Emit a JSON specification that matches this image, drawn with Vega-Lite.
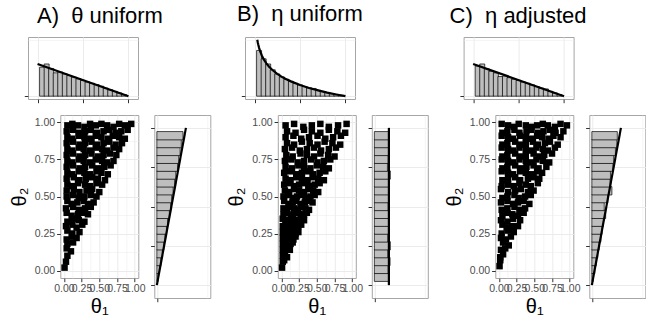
{
"$schema": "https://vega.github.io/schema/vega-lite/v6.json",
"background": "white",
"padding": {"left": 8, "right": 0, "top": 2, "bottom": 0},
"config": {
 "view": {"stroke": "#A6A6A6", "strokeWidth": 1},
 "axis": {"domain": false, "tickColor": "#333333", "tickSize": 3.7, "tickWidth": 1, "gridColor": "#EBEBEB", "labelFont": "Liberation Sans", "labelFontSize": 10.5, "labelColor": "#4D4D4D", "labelPadding": 2, "titleFont": "Liberation Sans", "titleFontWeight": "normal", "titleColor": "#000000", "minExtent": 0, "maxExtent": 300, "labelOverlap": false, "labelFlush": false},
 "title": {"font": "Liberation Sans", "fontSize": 22, "fontWeight": "normal", "anchor": "start", "frame": "group", "color": "#000000", "baseline": "alphabetic", "offset": 9.5, "dx": -8}
},
"datasets": {
 "topA": [{"c":0.05,"d":1.8},{"c":0.10,"d":2.0},{"c":0.15,"d":1.72},{"c":0.20,"d":1.45},{"c":0.25,"d":1.5},{"c":0.30,"d":1.38},{"c":0.35,"d":1.28},{"c":0.40,"d":1.18},{"c":0.45,"d":1.08},{"c":0.50,"d":0.98},{"c":0.55,"d":0.88},{"c":0.60,"d":0.8},{"c":0.65,"d":0.72},{"c":0.70,"d":0.62},{"c":0.75,"d":0.5},{"c":0.80,"d":0.4},{"c":0.85,"d":0.3},{"c":0.90,"d":0.2},{"c":0.95,"d":0.1}],
 "topB": [{"c":0.05,"d":2.84},{"c":0.10,"d":2.32},{"c":0.15,"d":2.0},{"c":0.20,"d":1.64},{"c":0.25,"d":1.38},{"c":0.30,"d":1.2},{"c":0.35,"d":1.05},{"c":0.40,"d":0.92},{"c":0.45,"d":0.8},{"c":0.50,"d":0.7},{"c":0.55,"d":0.6},{"c":0.60,"d":0.52},{"c":0.65,"d":0.48},{"c":0.70,"d":0.36},{"c":0.75,"d":0.29},{"c":0.80,"d":0.22},{"c":0.85,"d":0.16},{"c":0.90,"d":0.1},{"c":0.95,"d":0.05}],
 "topC": [{"c":0.05,"d":1.88},{"c":0.10,"d":2.0},{"c":0.15,"d":1.7},{"c":0.20,"d":1.55},{"c":0.25,"d":1.45},{"c":0.30,"d":1.22},{"c":0.35,"d":1.25},{"c":0.40,"d":1.15},{"c":0.45,"d":1.05},{"c":0.50,"d":0.98},{"c":0.55,"d":0.88},{"c":0.60,"d":0.8},{"c":0.65,"d":0.7},{"c":0.70,"d":0.6},{"c":0.75,"d":0.5},{"c":0.80,"d":0.45},{"c":0.85,"d":0.3},{"c":0.90,"d":0.2},{"c":0.95,"d":0.1}],
 "rhA": [{"c":0.05,"d":0.09},{"c":0.10,"d":0.18},{"c":0.15,"d":0.28},{"c":0.20,"d":0.38},{"c":0.25,"d":0.48},{"c":0.30,"d":0.56},{"c":0.35,"d":0.66},{"c":0.40,"d":0.74},{"c":0.45,"d":0.86},{"c":0.50,"d":0.95},{"c":0.55,"d":1.02},{"c":0.60,"d":1.12},{"c":0.65,"d":1.22},{"c":0.70,"d":1.3},{"c":0.75,"d":1.42},{"c":0.80,"d":1.5},{"c":0.85,"d":1.6},{"c":0.90,"d":1.68},{"c":0.95,"d":1.8}],
 "rhB": [{"c":0.05,"d":1.0},{"c":0.10,"d":0.95},{"c":0.15,"d":1.08},{"c":0.20,"d":0.92},{"c":0.25,"d":1.1},{"c":0.30,"d":0.92},{"c":0.35,"d":0.97},{"c":0.40,"d":1.0},{"c":0.45,"d":1.02},{"c":0.50,"d":0.95},{"c":0.55,"d":1.0},{"c":0.60,"d":1.0},{"c":0.65,"d":1.0},{"c":0.70,"d":1.1},{"c":0.75,"d":0.9},{"c":0.80,"d":0.95},{"c":0.85,"d":1.0},{"c":0.90,"d":1.0},{"c":0.95,"d":1.0}],
 "rhC": [{"c":0.05,"d":0.1},{"c":0.10,"d":0.2},{"c":0.15,"d":0.3},{"c":0.20,"d":0.4},{"c":0.25,"d":0.5},{"c":0.30,"d":0.62},{"c":0.35,"d":0.7},{"c":0.40,"d":0.8},{"c":0.45,"d":0.95},{"c":0.50,"d":0.85},{"c":0.55,"d":1.1},{"c":0.60,"d":1.38},{"c":0.65,"d":1.25},{"c":0.70,"d":1.28},{"c":0.75,"d":1.45},{"c":0.80,"d":1.5},{"c":0.85,"d":1.62},{"c":0.90,"d":1.72},{"c":0.95,"d":1.75}],
 "lineTri": [{"c":0,"d":2},{"c":1,"d":0}],
 "lineLog": [{"c":0.0302,"d":3.5},{"c":0.035,"d":3.35},{"c":0.04,"d":3.22},{"c":0.05,"d":3.0},{"c":0.06,"d":2.81},{"c":0.08,"d":2.53},{"c":0.1,"d":2.3},{"c":0.13,"d":2.04},{"c":0.16,"d":1.83},{"c":0.2,"d":1.61},{"c":0.25,"d":1.39},{"c":0.3,"d":1.2},{"c":0.35,"d":1.05},{"c":0.4,"d":0.92},{"c":0.5,"d":0.69},{"c":0.6,"d":0.51},{"c":0.7,"d":0.36},{"c":0.8,"d":0.22},{"c":0.9,"d":0.105},{"c":1.0,"d":0}],
 "rlineTri": [{"c":0,"d":0},{"c":1,"d":2}],
 "rlineFlat": [{"c":0,"d":1},{"c":1,"d":1}],
 "ptsA": [{"x":0.01,"y":0.02},{"x":0.03,"y":0.06},{"x":0.05,"y":0.10},{"x":0.04,"y":0.15},{"x":0.10,"y":0.13},{"x":0.05,"y":0.18},{"x":0.13,"y":0.19},{"x":0.04,"y":0.21},{"x":0.11,"y":0.23},{"x":0.18,"y":0.22},{"x":0.05,"y":0.27},{"x":0.12,"y":0.25},{"x":0.22,"y":0.26},{"x":0.03,"y":0.30},{"x":0.12,"y":0.31},{"x":0.18,"y":0.29},{"x":0.26,"y":0.31},{"x":0.05,"y":0.33},{"x":0.13,"y":0.35},{"x":0.21,"y":0.34},{"x":0.29,"y":0.33},{"x":0.04,"y":0.39},{"x":0.11,"y":0.37},{"x":0.20,"y":0.38},{"x":0.26,"y":0.39},{"x":0.34,"y":0.38},{"x":0.03,"y":0.42},{"x":0.13,"y":0.43},{"x":0.21,"y":0.41},{"x":0.30,"y":0.42},{"x":0.38,"y":0.43},{"x":0.05,"y":0.47},{"x":0.11,"y":0.45},{"x":0.19,"y":0.46},{"x":0.28,"y":0.47},{"x":0.34,"y":0.45},{"x":0.42,"y":0.46},{"x":0.04,"y":0.50},{"x":0.13,"y":0.51},{"x":0.21,"y":0.49},{"x":0.29,"y":0.50},{"x":0.38,"y":0.51},{"x":0.46,"y":0.50},{"x":0.04,"y":0.54},{"x":0.14,"y":0.55},{"x":0.22,"y":0.53},{"x":0.32,"y":0.54},{"x":0.40,"y":0.55},{"x":0.50,"y":0.53},{"x":0.05,"y":0.58},{"x":0.12,"y":0.57},{"x":0.20,"y":0.59},{"x":0.30,"y":0.58},{"x":0.37,"y":0.57},{"x":0.46,"y":0.59},{"x":0.54,"y":0.58},{"x":0.04,"y":0.62},{"x":0.14,"y":0.63},{"x":0.22,"y":0.61},{"x":0.31,"y":0.62},{"x":0.40,"y":0.63},{"x":0.48,"y":0.62},{"x":0.58,"y":0.61},{"x":0.05,"y":0.66},{"x":0.12,"y":0.65},{"x":0.21,"y":0.67},{"x":0.29,"y":0.66},{"x":0.37,"y":0.65},{"x":0.46,"y":0.67},{"x":0.53,"y":0.66},{"x":0.62,"y":0.65},{"x":0.04,"y":0.70},{"x":0.13,"y":0.71},{"x":0.22,"y":0.69},{"x":0.30,"y":0.70},{"x":0.40,"y":0.71},{"x":0.48,"y":0.69},{"x":0.57,"y":0.70},{"x":0.66,"y":0.71},{"x":0.05,"y":0.74},{"x":0.12,"y":0.73},{"x":0.21,"y":0.75},{"x":0.28,"y":0.74},{"x":0.37,"y":0.73},{"x":0.45,"y":0.75},{"x":0.54,"y":0.74},{"x":0.61,"y":0.73},{"x":0.70,"y":0.74},{"x":0.04,"y":0.78},{"x":0.13,"y":0.79},{"x":0.22,"y":0.77},{"x":0.30,"y":0.78},{"x":0.39,"y":0.79},{"x":0.48,"y":0.77},{"x":0.56,"y":0.78},{"x":0.65,"y":0.79},{"x":0.74,"y":0.78},{"x":0.05,"y":0.82},{"x":0.12,"y":0.81},{"x":0.21,"y":0.83},{"x":0.28,"y":0.82},{"x":0.37,"y":0.81},{"x":0.45,"y":0.83},{"x":0.54,"y":0.82},{"x":0.61,"y":0.81},{"x":0.70,"y":0.83},{"x":0.78,"y":0.82},{"x":0.04,"y":0.86},{"x":0.13,"y":0.87},{"x":0.22,"y":0.85},{"x":0.30,"y":0.86},{"x":0.39,"y":0.87},{"x":0.47,"y":0.85},{"x":0.56,"y":0.86},{"x":0.64,"y":0.87},{"x":0.73,"y":0.85},{"x":0.82,"y":0.86},{"x":0.05,"y":0.90},{"x":0.12,"y":0.89},{"x":0.21,"y":0.91},{"x":0.29,"y":0.90},{"x":0.37,"y":0.89},{"x":0.45,"y":0.91},{"x":0.53,"y":0.90},{"x":0.62,"y":0.89},{"x":0.69,"y":0.91},{"x":0.78,"y":0.90},{"x":0.86,"y":0.89},{"x":0.04,"y":0.94},{"x":0.13,"y":0.95},{"x":0.21,"y":0.93},{"x":0.30,"y":0.94},{"x":0.38,"y":0.95},{"x":0.47,"y":0.93},{"x":0.56,"y":0.94},{"x":0.64,"y":0.95},{"x":0.73,"y":0.93},{"x":0.81,"y":0.94},{"x":0.90,"y":0.95},{"x":0.05,"y":0.98},{"x":0.12,"y":0.99},{"x":0.20,"y":0.98},{"x":0.29,"y":0.97},{"x":0.37,"y":0.99},{"x":0.45,"y":0.98},{"x":0.53,"y":0.99},{"x":0.61,"y":0.98},{"x":0.70,"y":0.97},{"x":0.78,"y":0.99},{"x":0.86,"y":0.98},{"x":0.95,"y":0.99}],
 "ptsB": [{"x":0.01,"y":0.02},{"x":0.02,"y":0.06},{"x":0.04,"y":0.07},{"x":0.02,"y":0.10},{"x":0.05,"y":0.11},{"x":0.08,"y":0.09},{"x":0.02,"y":0.14},{"x":0.05,"y":0.13},{"x":0.09,"y":0.15},{"x":0.12,"y":0.14},{"x":0.02,"y":0.18},{"x":0.05,"y":0.19},{"x":0.09,"y":0.17},{"x":0.13,"y":0.18},{"x":0.16,"y":0.19},{"x":0.02,"y":0.22},{"x":0.06,"y":0.21},{"x":0.09,"y":0.23},{"x":0.13,"y":0.22},{"x":0.17,"y":0.21},{"x":0.20,"y":0.23},{"x":0.02,"y":0.26},{"x":0.06,"y":0.27},{"x":0.09,"y":0.25},{"x":0.13,"y":0.26},{"x":0.17,"y":0.27},{"x":0.20,"y":0.25},{"x":0.24,"y":0.26},{"x":0.02,"y":0.30},{"x":0.06,"y":0.31},{"x":0.09,"y":0.29},{"x":0.13,"y":0.30},{"x":0.17,"y":0.31},{"x":0.21,"y":0.29},{"x":0.24,"y":0.30},{"x":0.28,"y":0.31},{"x":0.02,"y":0.35},{"x":0.06,"y":0.33},{"x":0.11,"y":0.34},{"x":0.15,"y":0.35},{"x":0.19,"y":0.33},{"x":0.23,"y":0.34},{"x":0.28,"y":0.35},{"x":0.32,"y":0.34},{"x":0.03,"y":0.38},{"x":0.08,"y":0.39},{"x":0.13,"y":0.37},{"x":0.17,"y":0.38},{"x":0.22,"y":0.39},{"x":0.27,"y":0.37},{"x":0.32,"y":0.38},{"x":0.36,"y":0.39},{"x":0.03,"y":0.42},{"x":0.08,"y":0.41},{"x":0.13,"y":0.43},{"x":0.18,"y":0.42},{"x":0.24,"y":0.41},{"x":0.29,"y":0.43},{"x":0.34,"y":0.42},{"x":0.39,"y":0.41},{"x":0.04,"y":0.47},{"x":0.10,"y":0.45},{"x":0.16,"y":0.46},{"x":0.21,"y":0.47},{"x":0.27,"y":0.45},{"x":0.33,"y":0.46},{"x":0.39,"y":0.47},{"x":0.44,"y":0.46},{"x":0.03,"y":0.50},{"x":0.09,"y":0.51},{"x":0.16,"y":0.49},{"x":0.22,"y":0.50},{"x":0.28,"y":0.51},{"x":0.34,"y":0.49},{"x":0.41,"y":0.50},{"x":0.47,"y":0.51},{"x":0.05,"y":0.54},{"x":0.11,"y":0.53},{"x":0.18,"y":0.55},{"x":0.25,"y":0.54},{"x":0.32,"y":0.53},{"x":0.38,"y":0.55},{"x":0.45,"y":0.54},{"x":0.52,"y":0.53},{"x":0.04,"y":0.58},{"x":0.11,"y":0.59},{"x":0.18,"y":0.57},{"x":0.25,"y":0.58},{"x":0.33,"y":0.59},{"x":0.40,"y":0.57},{"x":0.47,"y":0.58},{"x":0.54,"y":0.59},{"x":0.06,"y":0.62},{"x":0.13,"y":0.61},{"x":0.21,"y":0.63},{"x":0.29,"y":0.62},{"x":0.37,"y":0.61},{"x":0.44,"y":0.63},{"x":0.52,"y":0.62},{"x":0.60,"y":0.61},{"x":0.04,"y":0.66},{"x":0.12,"y":0.67},{"x":0.21,"y":0.65},{"x":0.29,"y":0.66},{"x":0.37,"y":0.67},{"x":0.45,"y":0.65},{"x":0.54,"y":0.66},{"x":0.62,"y":0.67},{"x":0.06,"y":0.70},{"x":0.15,"y":0.69},{"x":0.24,"y":0.71},{"x":0.32,"y":0.70},{"x":0.41,"y":0.69},{"x":0.50,"y":0.71},{"x":0.59,"y":0.70},{"x":0.67,"y":0.69},{"x":0.05,"y":0.74},{"x":0.14,"y":0.75},{"x":0.23,"y":0.73},{"x":0.32,"y":0.74},{"x":0.42,"y":0.75},{"x":0.51,"y":0.73},{"x":0.60,"y":0.74},{"x":0.69,"y":0.75},{"x":0.07,"y":0.78},{"x":0.16,"y":0.77},{"x":0.27,"y":0.79},{"x":0.36,"y":0.78},{"x":0.46,"y":0.77},{"x":0.55,"y":0.79},{"x":0.66,"y":0.78},{"x":0.75,"y":0.77},{"x":0.05,"y":0.82},{"x":0.15,"y":0.83},{"x":0.26,"y":0.81},{"x":0.36,"y":0.82},{"x":0.46,"y":0.83},{"x":0.56,"y":0.81},{"x":0.67,"y":0.82},{"x":0.77,"y":0.83},{"x":0.08,"y":0.86},{"x":0.18,"y":0.85},{"x":0.29,"y":0.87},{"x":0.40,"y":0.86},{"x":0.51,"y":0.85},{"x":0.61,"y":0.87},{"x":0.72,"y":0.86},{"x":0.83,"y":0.85},{"x":0.06,"y":0.90},{"x":0.17,"y":0.91},{"x":0.28,"y":0.89},{"x":0.39,"y":0.90},{"x":0.51,"y":0.91},{"x":0.62,"y":0.89},{"x":0.73,"y":0.90},{"x":0.84,"y":0.91},{"x":0.08,"y":0.94},{"x":0.20,"y":0.93},{"x":0.32,"y":0.95},{"x":0.43,"y":0.94},{"x":0.55,"y":0.93},{"x":0.67,"y":0.95},{"x":0.79,"y":0.94},{"x":0.90,"y":0.93},{"x":0.06,"y":0.98},{"x":0.18,"y":0.99},{"x":0.31,"y":0.97},{"x":0.43,"y":0.98},{"x":0.55,"y":0.99},{"x":0.67,"y":0.97},{"x":0.80,"y":0.98},{"x":0.92,"y":0.99}],
 "ptsC": [{"x":0.01,"y":0.03},{"x":0.02,"y":0.07},{"x":0.06,"y":0.11},{"x":0.02,"y":0.09},{"x":0.03,"y":0.14},{"x":0.09,"y":0.15},{"x":0.06,"y":0.19},{"x":0.14,"y":0.17},{"x":0.03,"y":0.22},{"x":0.10,"y":0.21},{"x":0.17,"y":0.23},{"x":0.04,"y":0.25},{"x":0.13,"y":0.27},{"x":0.21,"y":0.26},{"x":0.05,"y":0.31},{"x":0.11,"y":0.29},{"x":0.19,"y":0.30},{"x":0.27,"y":0.30},{"x":0.03,"y":0.34},{"x":0.12,"y":0.33},{"x":0.20,"y":0.35},{"x":0.30,"y":0.34},{"x":0.05,"y":0.37},{"x":0.12,"y":0.39},{"x":0.19,"y":0.38},{"x":0.27,"y":0.37},{"x":0.35,"y":0.39},{"x":0.04,"y":0.41},{"x":0.12,"y":0.42},{"x":0.22,"y":0.43},{"x":0.29,"y":0.41},{"x":0.37,"y":0.42},{"x":0.03,"y":0.46},{"x":0.12,"y":0.47},{"x":0.20,"y":0.45},{"x":0.27,"y":0.46},{"x":0.35,"y":0.47},{"x":0.43,"y":0.45},{"x":0.05,"y":0.49},{"x":0.12,"y":0.50},{"x":0.22,"y":0.51},{"x":0.28,"y":0.49},{"x":0.37,"y":0.50},{"x":0.45,"y":0.51},{"x":0.03,"y":0.55},{"x":0.13,"y":0.53},{"x":0.23,"y":0.54},{"x":0.31,"y":0.55},{"x":0.41,"y":0.53},{"x":0.49,"y":0.54},{"x":0.04,"y":0.57},{"x":0.13,"y":0.58},{"x":0.21,"y":0.57},{"x":0.29,"y":0.59},{"x":0.38,"y":0.58},{"x":0.45,"y":0.57},{"x":0.55,"y":0.59},{"x":0.05,"y":0.61},{"x":0.13,"y":0.62},{"x":0.23,"y":0.63},{"x":0.30,"y":0.61},{"x":0.41,"y":0.62},{"x":0.49,"y":0.63},{"x":0.57,"y":0.62},{"x":0.04,"y":0.67},{"x":0.13,"y":0.66},{"x":0.20,"y":0.65},{"x":0.30,"y":0.67},{"x":0.38,"y":0.66},{"x":0.45,"y":0.65},{"x":0.54,"y":0.67},{"x":0.61,"y":0.66},{"x":0.05,"y":0.69},{"x":0.12,"y":0.70},{"x":0.23,"y":0.71},{"x":0.31,"y":0.69},{"x":0.39,"y":0.70},{"x":0.49,"y":0.71},{"x":0.56,"y":0.69},{"x":0.67,"y":0.70},{"x":0.04,"y":0.75},{"x":0.13,"y":0.74},{"x":0.20,"y":0.73},{"x":0.29,"y":0.75},{"x":0.38,"y":0.74},{"x":0.46,"y":0.73},{"x":0.53,"y":0.75},{"x":0.62,"y":0.74},{"x":0.71,"y":0.73},{"x":0.05,"y":0.77},{"x":0.12,"y":0.78},{"x":0.23,"y":0.79},{"x":0.31,"y":0.77},{"x":0.38,"y":0.78},{"x":0.49,"y":0.79},{"x":0.57,"y":0.77},{"x":0.64,"y":0.78},{"x":0.75,"y":0.79},{"x":0.04,"y":0.83},{"x":0.13,"y":0.82},{"x":0.20,"y":0.81},{"x":0.29,"y":0.83},{"x":0.38,"y":0.82},{"x":0.46,"y":0.81},{"x":0.53,"y":0.83},{"x":0.62,"y":0.82},{"x":0.69,"y":0.81},{"x":0.79,"y":0.83},{"x":0.05,"y":0.85},{"x":0.12,"y":0.86},{"x":0.23,"y":0.87},{"x":0.31,"y":0.85},{"x":0.38,"y":0.86},{"x":0.48,"y":0.87},{"x":0.55,"y":0.85},{"x":0.65,"y":0.86},{"x":0.72,"y":0.87},{"x":0.83,"y":0.85},{"x":0.04,"y":0.91},{"x":0.13,"y":0.90},{"x":0.20,"y":0.89},{"x":0.30,"y":0.91},{"x":0.38,"y":0.90},{"x":0.46,"y":0.89},{"x":0.54,"y":0.91},{"x":0.61,"y":0.90},{"x":0.70,"y":0.89},{"x":0.77,"y":0.91},{"x":0.87,"y":0.90},{"x":0.05,"y":0.93},{"x":0.12,"y":0.94},{"x":0.22,"y":0.95},{"x":0.29,"y":0.93},{"x":0.39,"y":0.94},{"x":0.46,"y":0.95},{"x":0.55,"y":0.93},{"x":0.63,"y":0.94},{"x":0.72,"y":0.95},{"x":0.80,"y":0.93},{"x":0.91,"y":0.94},{"x":0.04,"y":0.99},{"x":0.13,"y":0.98},{"x":0.21,"y":0.97},{"x":0.28,"y":0.99},{"x":0.38,"y":0.98},{"x":0.46,"y":0.97},{"x":0.54,"y":0.98},{"x":0.62,"y":0.99},{"x":0.69,"y":0.98},{"x":0.79,"y":0.97},{"x":0.87,"y":0.99},{"x":0.96,"y":0.98}]
},
"spacing": 10,
"vconcat": [
 {"hconcat": [
  {"title": {"text": "A)\u00a0 θ uniform", "dx": 9}, "width": 110, "height": 62,
   "layer": [
    {"data": {"name": "topA"}, "mark": {"type": "bar", "width": 5, "fill": "#BEBEBE", "stroke": "#000000", "strokeWidth": 0.7},
     "encoding": {
      "x": {"field": "c", "type": "quantitative", "scale": {"domain": [-0.05, 1.05], "nice": false, "zero": false}, "axis": {"title": null, "labels": false, "values": [0,0.125,0.25,0.375,0.5,0.625,0.75,0.875,1], "tickOpacity": {"condition": {"test": "datum.value % 0.25 === 0", "value": 1}, "value": 0}, "gridWidth": {"condition": {"test": "datum.value % 0.25 === 0", "value": 1}, "value": 0.5}}},
      "y": {"field": "d", "type": "quantitative", "scale": {"domain": [-0.175, 3.675], "nice": false, "zero": false}, "axis": {"title": null, "labels": false, "values": [0,0.5,1,1.5,2,2.5,3,3.5], "tickOpacity": {"condition": {"test": "datum.value % 1 === 0", "value": 1}, "value": 0}, "gridWidth": {"condition": {"test": "datum.value % 1 === 0", "value": 1}, "value": 0.5}}},
      "y2": {"datum": 0}}},
    {"data": {"name": "lineTri"}, "mark": {"type": "line", "color": "#000000", "strokeWidth": 2.2},
     "encoding": {"x": {"field": "c", "type": "quantitative"}, "y": {"field": "d", "type": "quantitative"}}}
   ]},
  {"hconcat": [
  {"title": {"text": "B)\u00a0 η uniform"}, "width": 110, "height": 62,
   "layer": [
    {"data": {"name": "topB"}, "mark": {"type": "bar", "width": 5, "fill": "#BEBEBE", "stroke": "#000000", "strokeWidth": 0.7},
     "encoding": {
      "x": {"field": "c", "type": "quantitative", "scale": {"domain": [-0.05, 1.05], "nice": false, "zero": false}, "axis": {"title": null, "labels": false, "values": [0,0.125,0.25,0.375,0.5,0.625,0.75,0.875,1], "tickOpacity": {"condition": {"test": "datum.value % 0.25 === 0", "value": 1}, "value": 0}, "gridWidth": {"condition": {"test": "datum.value % 0.25 === 0", "value": 1}, "value": 0.5}}},
      "y": {"field": "d", "type": "quantitative", "scale": {"domain": [-0.175, 3.675], "nice": false, "zero": false}, "axis": {"title": null, "labels": false, "values": [0,0.5,1,1.5,2,2.5,3,3.5], "tickOpacity": {"condition": {"test": "datum.value % 1 === 0", "value": 1}, "value": 0}, "gridWidth": {"condition": {"test": "datum.value % 1 === 0", "value": 1}, "value": 0.5}}},
      "y2": {"datum": 0}}},
    {"data": {"name": "lineLog"}, "mark": {"type": "line", "color": "#000000", "strokeWidth": 2.2},
     "encoding": {"x": {"field": "c", "type": "quantitative"}, "y": {"field": "d", "type": "quantitative"}}}
   ]},
  {"title": {"text": "C)\u00a0 η adjusted", "dx": -14}, "width": 110, "height": 62,
   "layer": [
    {"data": {"name": "topC"}, "mark": {"type": "bar", "width": 5, "fill": "#BEBEBE", "stroke": "#000000", "strokeWidth": 0.7},
     "encoding": {
      "x": {"field": "c", "type": "quantitative", "scale": {"domain": [-0.05, 1.05], "nice": false, "zero": false}, "axis": {"title": null, "labels": false, "values": [0,0.125,0.25,0.375,0.5,0.625,0.75,0.875,1], "tickOpacity": {"condition": {"test": "datum.value % 0.25 === 0", "value": 1}, "value": 0}, "gridWidth": {"condition": {"test": "datum.value % 0.25 === 0", "value": 1}, "value": 0.5}}},
      "y": {"field": "d", "type": "quantitative", "scale": {"domain": [-0.175, 3.675], "nice": false, "zero": false}, "axis": {"title": null, "labels": false, "values": [0,0.5,1,1.5,2,2.5,3,3.5], "tickOpacity": {"condition": {"test": "datum.value % 1 === 0", "value": 1}, "value": 0}, "gridWidth": {"condition": {"test": "datum.value % 1 === 0", "value": 1}, "value": 0.5}}},
      "y2": {"datum": 0}}},
    {"data": {"name": "lineTri"}, "mark": {"type": "line", "color": "#000000", "strokeWidth": 2.2},
     "encoding": {"x": {"field": "c", "type": "quantitative"}, "y": {"field": "d", "type": "quantitative"}}}
   ]}
  ], "spacing": 84.6}
 ], "spacing": 72},
 {"hconcat": [
  {"width": 1, "height": 1, "data": {"values": []}, "mark": {"type": "point", "opacity": 0}, "encoding": {}, "view": {"stroke": null}},
  {"hconcat": [
  {"hconcat": [
   {"width": 78, "height": 163, "data": {"name": "ptsA"}, "mark": {"type": "square", "size": 42, "color": "#000000", "opacity": 1},
    "encoding": {
     "x": {"field": "x", "type": "quantitative", "scale": {"domain": [-0.05, 1.05], "nice": false, "zero": false}, "axis": {"title": "θ₁", "titleFontSize": 20, "titlePadding": 2, "values": [0,0.125,0.25,0.375,0.5,0.625,0.75,0.875,1], "labelExpr": "datum.value % 0.25 === 0 ? format(datum.value, '.2f') : ''", "tickOpacity": {"condition": {"test": "datum.value % 0.25 === 0", "value": 1}, "value": 0}, "gridWidth": {"condition": {"test": "datum.value % 0.25 === 0", "value": 1}, "value": 0.5}}},
     "y": {"field": "y", "type": "quantitative", "scale": {"domain": [-0.05, 1.05], "nice": false, "zero": false}, "axis": {"title": "θ₂", "titleFontSize": 20, "titlePadding": 5, "values": [0,0.125,0.25,0.375,0.5,0.625,0.75,0.875,1], "labelExpr": "datum.value % 0.25 === 0 ? format(datum.value, '.2f') : ''", "tickOpacity": {"condition": {"test": "datum.value % 0.25 === 0", "value": 1}, "value": 0}, "gridWidth": {"condition": {"test": "datum.value % 0.25 === 0", "value": 1}, "value": 0.5}}}}},
   {"width": 56, "height": 183,
    "layer": [
     {"data": {"name": "rhA"}, "mark": {"type": "bar", "orient": "horizontal", "height": 8.3, "fill": "#BEBEBE", "stroke": "#000000", "strokeWidth": 0.7},
      "encoding": {
       "y": {"field": "c", "type": "quantitative", "scale": {"domain": [-0.05, 1.05], "nice": false, "zero": false}, "axis": {"title": null, "labels": false, "values": [0,0.125,0.25,0.375,0.5,0.625,0.75,0.875,1], "tickOpacity": {"condition": {"test": "datum.value % 0.25 === 0", "value": 1}, "value": 0}, "gridWidth": {"condition": {"test": "datum.value % 0.25 === 0", "value": 1}, "value": 0.5}}},
       "x": {"field": "d", "type": "quantitative", "scale": {"domain": [-0.175, 3.675], "nice": false, "zero": false}, "axis": {"title": null, "labels": false, "values": [0,0.5,1,1.5,2,2.5,3,3.5], "tickOpacity": {"condition": {"test": "datum.value % 1 === 0", "value": 1}, "value": 0}, "gridWidth": {"condition": {"test": "datum.value % 1 === 0", "value": 1}, "value": 0.5}}},
       "x2": {"datum": 0}}},
     {"data": {"name": "rlineTri"}, "mark": {"type": "line", "color": "#000000", "strokeWidth": 2.2},
      "encoding": {"x": {"field": "d", "type": "quantitative"}, "y": {"field": "c", "type": "quantitative"}, "order": {"field": "c"}}}
    ]}
  ], "spacing": 3},
  {"hconcat": [
   {"width": 78, "height": 163, "data": {"name": "ptsB"}, "mark": {"type": "square", "size": 42, "color": "#000000", "opacity": 1},
    "encoding": {
     "x": {"field": "x", "type": "quantitative", "scale": {"domain": [-0.05, 1.05], "nice": false, "zero": false}, "axis": {"title": "θ₁", "titleFontSize": 20, "titlePadding": 2, "values": [0,0.125,0.25,0.375,0.5,0.625,0.75,0.875,1], "labelExpr": "datum.value % 0.25 === 0 ? format(datum.value, '.2f') : ''", "tickOpacity": {"condition": {"test": "datum.value % 0.25 === 0", "value": 1}, "value": 0}, "gridWidth": {"condition": {"test": "datum.value % 0.25 === 0", "value": 1}, "value": 0.5}}},
     "y": {"field": "y", "type": "quantitative", "scale": {"domain": [-0.05, 1.05], "nice": false, "zero": false}, "axis": {"title": "θ₂", "titleFontSize": 20, "titlePadding": 5, "values": [0,0.125,0.25,0.375,0.5,0.625,0.75,0.875,1], "labelExpr": "datum.value % 0.25 === 0 ? format(datum.value, '.2f') : ''", "tickOpacity": {"condition": {"test": "datum.value % 0.25 === 0", "value": 1}, "value": 0}, "gridWidth": {"condition": {"test": "datum.value % 0.25 === 0", "value": 1}, "value": 0.5}}}}},
   {"width": 56, "height": 183,
    "layer": [
     {"data": {"name": "rhB"}, "mark": {"type": "bar", "orient": "horizontal", "height": 8.3, "fill": "#BEBEBE", "stroke": "#000000", "strokeWidth": 0.7},
      "encoding": {
       "y": {"field": "c", "type": "quantitative", "scale": {"domain": [-0.05, 1.05], "nice": false, "zero": false}, "axis": {"title": null, "labels": false, "values": [0,0.125,0.25,0.375,0.5,0.625,0.75,0.875,1], "tickOpacity": {"condition": {"test": "datum.value % 0.25 === 0", "value": 1}, "value": 0}, "gridWidth": {"condition": {"test": "datum.value % 0.25 === 0", "value": 1}, "value": 0.5}}},
       "x": {"field": "d", "type": "quantitative", "scale": {"domain": [-0.175, 3.675], "nice": false, "zero": false}, "axis": {"title": null, "labels": false, "values": [0,0.5,1,1.5,2,2.5,3,3.5], "tickOpacity": {"condition": {"test": "datum.value % 1 === 0", "value": 1}, "value": 0}, "gridWidth": {"condition": {"test": "datum.value % 1 === 0", "value": 1}, "value": 0.5}}},
       "x2": {"datum": 0}}},
     {"data": {"name": "rlineFlat"}, "mark": {"type": "line", "color": "#000000", "strokeWidth": 2.2},
      "encoding": {"x": {"field": "d", "type": "quantitative"}, "y": {"field": "c", "type": "quantitative"}, "order": {"field": "c"}}}
    ]}
  ], "spacing": 3},
  {"hconcat": [
   {"width": 78, "height": 163, "data": {"name": "ptsC"}, "mark": {"type": "square", "size": 42, "color": "#000000", "opacity": 1},
    "encoding": {
     "x": {"field": "x", "type": "quantitative", "scale": {"domain": [-0.05, 1.05], "nice": false, "zero": false}, "axis": {"title": "θ₁", "titleFontSize": 20, "titlePadding": 2, "values": [0,0.125,0.25,0.375,0.5,0.625,0.75,0.875,1], "labelExpr": "datum.value % 0.25 === 0 ? format(datum.value, '.2f') : ''", "tickOpacity": {"condition": {"test": "datum.value % 0.25 === 0", "value": 1}, "value": 0}, "gridWidth": {"condition": {"test": "datum.value % 0.25 === 0", "value": 1}, "value": 0.5}}},
     "y": {"field": "y", "type": "quantitative", "scale": {"domain": [-0.05, 1.05], "nice": false, "zero": false}, "axis": {"title": "θ₂", "titleFontSize": 20, "titlePadding": 5, "values": [0,0.125,0.25,0.375,0.5,0.625,0.75,0.875,1], "labelExpr": "datum.value % 0.25 === 0 ? format(datum.value, '.2f') : ''", "tickOpacity": {"condition": {"test": "datum.value % 0.25 === 0", "value": 1}, "value": 0}, "gridWidth": {"condition": {"test": "datum.value % 0.25 === 0", "value": 1}, "value": 0.5}}}}},
   {"width": 56, "height": 183,
    "layer": [
     {"data": {"name": "rhC"}, "mark": {"type": "bar", "orient": "horizontal", "height": 8.3, "fill": "#BEBEBE", "stroke": "#000000", "strokeWidth": 0.7},
      "encoding": {
       "y": {"field": "c", "type": "quantitative", "scale": {"domain": [-0.05, 1.05], "nice": false, "zero": false}, "axis": {"title": null, "labels": false, "values": [0,0.125,0.25,0.375,0.5,0.625,0.75,0.875,1], "tickOpacity": {"condition": {"test": "datum.value % 0.25 === 0", "value": 1}, "value": 0}, "gridWidth": {"condition": {"test": "datum.value % 0.25 === 0", "value": 1}, "value": 0.5}}},
       "x": {"field": "d", "type": "quantitative", "scale": {"domain": [-0.175, 3.675], "nice": false, "zero": false}, "axis": {"title": null, "labels": false, "values": [0,0.5,1,1.5,2,2.5,3,3.5], "tickOpacity": {"condition": {"test": "datum.value % 1 === 0", "value": 1}, "value": 0}, "gridWidth": {"condition": {"test": "datum.value % 1 === 0", "value": 1}, "value": 0.5}}},
       "x2": {"datum": 0}}},
     {"data": {"name": "rlineTri"}, "mark": {"type": "line", "color": "#000000", "strokeWidth": 2.2},
      "encoding": {"x": {"field": "d", "type": "quantitative"}, "y": {"field": "c", "type": "quantitative"}, "order": {"field": "c"}}}
    ]}
  ], "spacing": 3}
  ], "spacing": 14.5}
 ], "spacing": -20.7}
]
}
